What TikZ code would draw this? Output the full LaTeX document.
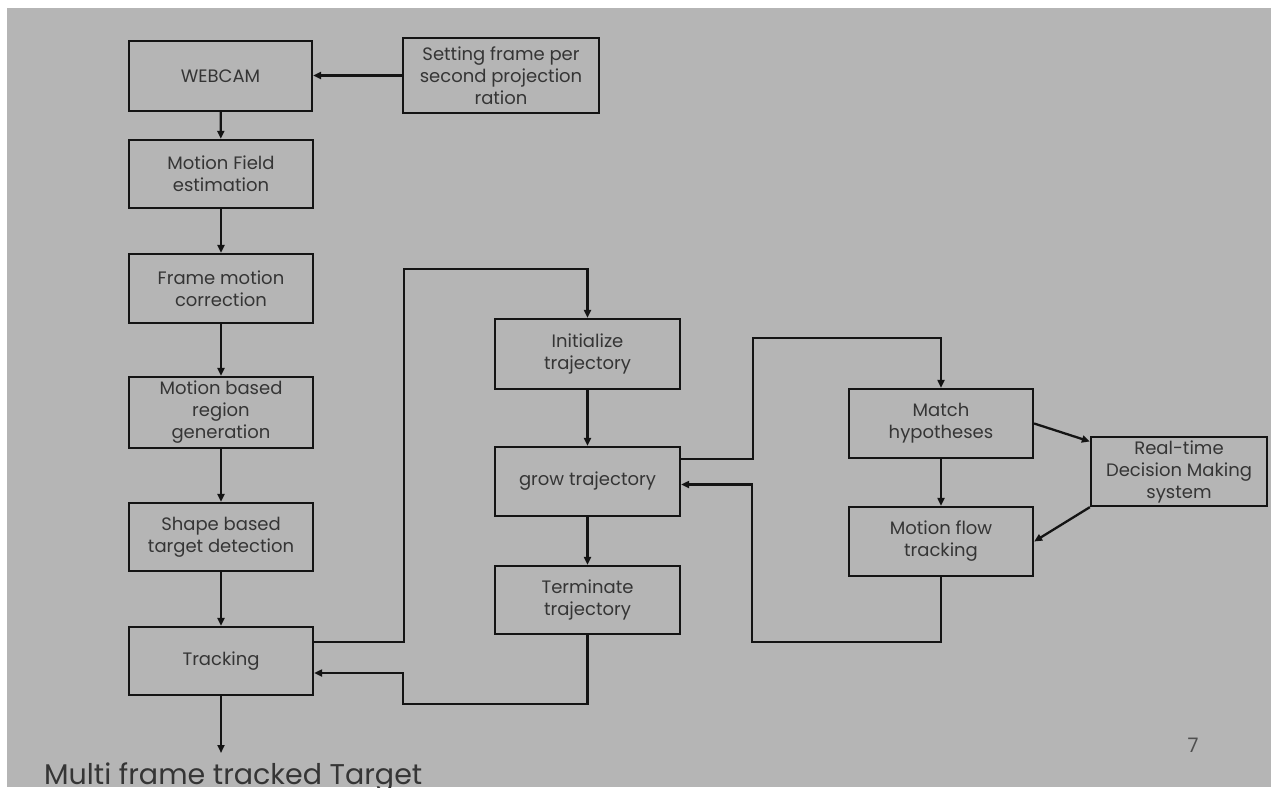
\documentclass[tikz,border=0pt]{standalone}
\usepackage{fontspec}
\setmainfont{Poppins}
\usetikzlibrary{arrows.meta}
\definecolor{bg}{HTML}{B5B5B5}
\definecolor{ink}{HTML}{141414}
\definecolor{txt}{HTML}{353535}
\begin{document}
\begin{tikzpicture}[x=1pt,y=-1pt,
  box/.style={draw=ink, line width=2.3pt, rectangle, inner sep=1pt, align=center,
    text=txt, font=\fontsize{18}{22}\selectfont},
  conn/.style={draw=ink, line width=2.3pt, -{Triangle[length=8pt,width=7pt]}}]
\useasboundingbox (0,0) rectangle (1271,787);
\fill[white] (0,0) rectangle (1271,787);
\fill[bg] (7,8) rectangle (1271,787);
% left column
\node[box, minimum width=183pt, minimum height=70pt] (webcam) at (220.5,76) {WEBCAM};
\node[box, minimum width=196pt, minimum height=75pt] (setting) at (501,75.5) {Setting frame per\\second projection\\ration};
\node[box, minimum width=184pt, minimum height=68pt] (mfield) at (221,174) {Motion Field\\estimation};
\node[box, minimum width=184pt, minimum height=69pt] (frame) at (221,288.5) {Frame motion\\correction};
\node[box, minimum width=184pt, minimum height=71pt] (mregion) at (221,412.5) {Motion based\\region\\generation};
\node[box, minimum width=184pt, minimum height=68pt] (shape) at (221,537) {Shape based\\target detection};
\node[box, minimum width=184pt, minimum height=68pt] (tracking) at (221,661) {Tracking};
% middle column
\node[box, minimum width=185pt, minimum height=70pt] (init) at (587.5,354) {Initialize\\trajectory};
\node[box, minimum width=185pt, minimum height=69pt] (grow) at (587.5,481.5) {grow trajectory};
\node[box, minimum width=185pt, minimum height=68pt] (term) at (587.5,600) {Terminate\\trajectory};
% right column
\node[box, minimum width=184pt, minimum height=69pt] (match) at (941,423.5) {Match\\hypotheses};
\node[box, minimum width=184pt, minimum height=69pt] (mflow) at (941,541.5) {Motion flow\\tracking};
\node[box, minimum width=176pt, minimum height=69pt] (rt) at (1179,471.5) {Real-time\\Decision Making\\system};
% output text
\coordinate (outtip) at (221,753);
\node[anchor=base west, inner sep=0pt, text=txt, font=\fontsize{28.5}{32}\selectfont] (outtxt) at (44,784) {Multi frame tracked Target};
\node[text=txt!80!bg, font=\fontsize{20}{24}\selectfont, inner sep=0pt] (pnum) at (1193,745) {7};
% connectors
\draw[conn] (setting.west) -- (webcam.east |- setting.west);
\draw[conn] (webcam) -- (mfield);
\draw[conn] (mfield) -- (frame);
\draw[conn] (frame) -- (mregion);
\draw[conn] (mregion) -- (shape);
\draw[conn] (shape) -- (tracking);
\draw[conn] (tracking.south) -- (outtip);
\draw[conn] ([yshift=19pt]tracking.east) -| (404,269) -| (init.north);
\draw[conn] (term.south) |- (403,704) |- ([yshift=-12pt]tracking.east);
\draw[conn] (init) -- (grow);
\draw[conn] (grow) -- (term);
\draw[conn] ([yshift=22.5pt]grow.east) -| (753,338) -| (match.north);
\draw[conn] (mflow.south) |- (752,642) |- ([yshift=-3pt]grow.east);
\draw[conn] (match) -- (mflow);
\draw[conn] (match.east) -- ([yshift=30pt]rt.west);
\draw[conn] (rt.south west) -- (mflow.east);
\end{tikzpicture}
\end{document}
